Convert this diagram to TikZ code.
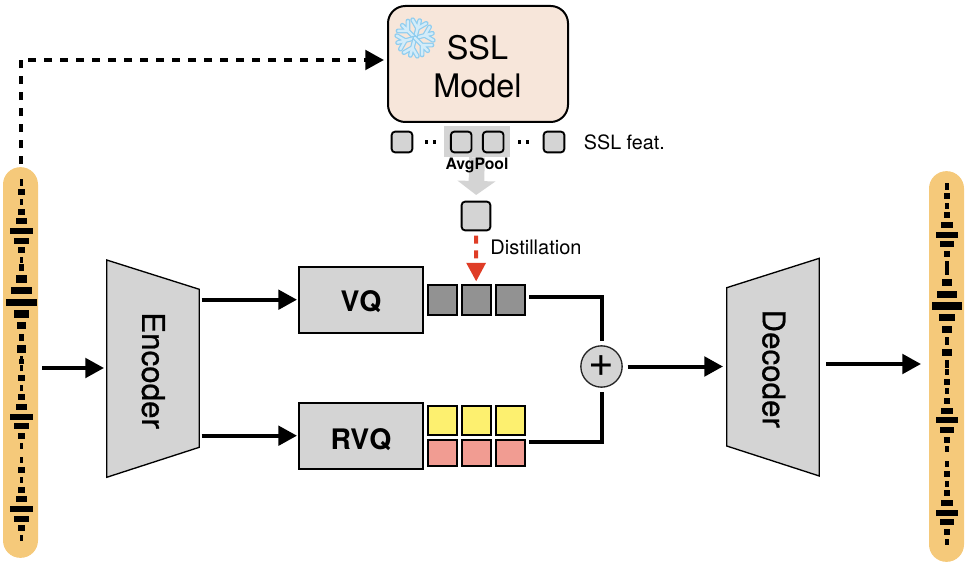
\documentclass[tikz,border=0pt]{standalone}
\usepackage{fontspec}
\setmainfont{TeX Gyre Heros}
\newfontfamily\semifont[FakeBold=0.7]{TeX Gyre Heros}
\usetikzlibrary{arrows.meta, positioning}

\definecolor{boxgray}{HTML}{D4D4D4}
\definecolor{codegray}{HTML}{929292}
\definecolor{codeyellow}{HTML}{FDF06F}
\definecolor{codered}{HTML}{F19C92}
\definecolor{sslfill}{HTML}{F7E6DA}
\definecolor{pillfill}{HTML}{F5C97A}
\definecolor{distred}{HTML}{DF3D26}
\definecolor{flakeblue}{HTML}{8FCDEF}
\definecolor{flakepale}{HTML}{D3ECF9}

\tikzset{
  pill/.style={fill=pillfill, rounded corners=13pt, minimum width=26.25pt, minimum height=293pt, inner sep=0pt, outer sep=0pt},
  wavebar/.style={fill=black, inner sep=0pt, outer sep=0pt},
  quant/.style={draw=black, fill=boxgray, line width=1.6pt, minimum width=93pt, minimum height=49.5pt, font=\fontsize{21.2}{24}\selectfont\bfseries, outer sep=0pt},
  code/.style={draw=black, line width=1.5pt, minimum width=21.75pt, minimum height=21.75pt, inner sep=0pt, outer sep=0pt},
  feat/.style={draw=black, fill=boxgray, line width=1.4pt, rounded corners=2.5pt, minimum width=15.5pt, minimum height=15.5pt, inner sep=0pt, outer sep=0pt},
  conv/.style={draw=black, fill=boxgray, line width=1pt},
  convtext/.style={rotate=-90, font=\fontsize{23.5}{26}\semifont},
  link/.style={line width=3pt, -{Triangle[length=14pt, width=14.5pt]}},
  plainlink/.style={line width=3pt},
  flake/.style={line cap=round, line join=round}
}

% one waveform: name, centre x, shift in y
\newcommand{\waveform}[3]{
  \foreach \y/\w/\h [count=\n] in {
    182.7/10/18, 192.3/20/16, 202/10/16, 211.7/20/16, 221.3/32/16, 231/64/16, 240.7/42/16, 250.3/20/16, 260/10/16,
    267.3/12/20, 279/30/20, 290.7/60/20, 302.3/88/20, 314/44/20, 325.7/28/20, 337.3/14/20, 349/28/20, 358.5/10/12,
    361.7/14/12, 368.3/10/16, 378/20/16, 387.7/10/16, 397.3/20/16, 407/32/16, 416.7/64/16, 426.3/42/16, 436/20/16,
    445.7/10/16, 460.3/10/16, 470/20/16, 480/10/16, 489.7/20/16, 499.3/32/16, 509/64/16, 518.7/42/16, 528.3/20/16, 538.3/10/16
  }
    \node[wavebar, minimum width=\w*0.26pt, minimum height=\h*0.28pt] (#1bar\n) at (#2, \y+#3) {};
}

\begin{document}
\begin{tikzpicture}[x=0.75pt, y=-0.75pt]
  \useasboundingbox (0,0) rectangle (966,566);

  % waveforms
  \node[pill] (wavein) at (20.5,362.5) {};
  \waveform{wavein}{21.5}{0}
  \node[pill] (waveout) at (946.5,366.5) {};
  \waveform{waveout}{947}{3.7}

  % SSL branch
  \node[draw=black, fill=sslfill, line width=1.5pt, rounded corners=13pt, minimum width=135pt, minimum height=87pt, inner sep=0pt, outer sep=0pt] (ssl) at (478,64) {};
  \node[align=center, font=\fontsize{24.3}{28.6}\selectfont, inner sep=0pt] (ssltext) at (477.5,67) {SSL\\Model};
  \foreach \a in {15,75,...,315} {
    \foreach \c/\lw in {flakeblue/3.6pt, flakepale/1.8pt} {
      \draw[flake, draw=\c, line width=\lw, shift={(415,38)}, rotate=\a]
        (0,0) -- (18,0) (10,0) -- (17,-7) (10,0) -- (17,7);
    }
  }
  \node[fill=boxgray, minimum width=49.5pt, minimum height=23.5pt, inner sep=0pt, outer sep=0pt] (poolbg) at (477,141.7) {};
  \node[feat] (feat1) at (402,142) {};
  \node[feat] (feat2) at (461.2,142) {};
  \node[feat] (feat3) at (493.2,142) {};
  \node[feat] (feat4) at (554,142) {};
  \foreach \x in {426.7,434.2,519.2,527.7}
    \fill (\x-1.7,140.3) rectangle (\x+1.7,143.7);
  \node[right=14.5pt of feat4.east, anchor=west, font=\fontsize{14.8}{18}\selectfont, inner sep=0pt] (featlabel) {SSL feat.};
  \node[feat, minimum width=21.5pt, minimum height=21.5pt] (pooled) at (476,216) {};
  \draw[draw=boxgray, line width=11.7pt, -{Triangle[length=10.5pt, width=28pt]}, shorten >=5pt] (poolbg.south) -- (pooled.north);
  \node[font=\fontsize{11.8}{14}\selectfont\bfseries, inner sep=0pt] (poollabel) at (477,165.5) {AvgPool};
  \node[font=\fontsize{15}{18}\selectfont, inner sep=0pt] (distlabel) at (536,247) {Distillation};

  % encoder and quantizers
  \draw[conv] (106.7,260) -- (199.3,289.3) -- (199.3,447.3) -- (106.7,477.3) -- cycle;
  \node[convtext] (encoder) at (153.3,370.6) {Encoder};
  \node[quant] (vq) at (361,300) {\raisebox{-2.35pt}[12pt][0pt]{VQ}};
  \node[quant] (rvq) at (361,436) {\raisebox{-3.85pt}[12pt][0pt]{RVQ}};

  \node[code, fill=codegray] (vq1) at (442.2,300) {};
  \node[code, fill=codegray, right=3.75pt of vq1] (vq2) {};
  \node[code, fill=codegray, right=3.75pt of vq2] (vq3) {};
  \node[code, fill=codeyellow] (ya) at (442.2,420) {};
  \node[code, fill=codeyellow, right=3.75pt of ya] (yb) {};
  \node[code, fill=codeyellow, right=3.75pt of yb] (yc) {};
  \node[code, fill=codered, minimum height=19.5pt] (ra) at (442.2,453) {};
  \node[code, fill=codered, minimum height=19.5pt, right=3.75pt of ra] (rb) {};
  \node[code, fill=codered, minimum height=19.5pt, right=3.75pt of rb] (rc) {};

  \node[circle, draw=black!85, fill=boxgray, line width=1pt, minimum size=31pt, inner sep=0pt, outer sep=0pt, font=\fontsize{33}{33}\selectfont] (plus) at (601.5,366.5) {+};

  \draw[conv] (819.3,258.3) -- (726.7,287.7) -- (726.7,446) -- (819.3,476) -- cycle;
  \node[convtext] (decoder) at (773.8,368.7) {Decoder};

  % free ends
  \coordinate (encin) at (104,368);
  \coordinate (encup) at (201.7,299.7);
  \coordinate (enclow) at (201.7,435.7);
  \coordinate (vqin) at (297,299.7);
  \coordinate (rvqin) at (297,435.7);
  \coordinate (vqout) at (529,297);
  \coordinate (rvqout) at (529,442);
  \coordinate (decin) at (723,366.5);
  \coordinate (decout) at (826,364);
  \coordinate (waveend) at (921,364);
  \coordinate (sslin) at (384,60);
  \coordinate (wavestart) at (42,368);

  % connectors
  \draw[link] (wavestart) -- (encin);
  \draw[link] (encup) -- (vqin);
  \draw[link] (enclow) -- (rvqin);
  \draw[plainlink, shorten >=3.5pt] (vqout) -| (plus.north);
  \draw[plainlink, shorten >=3.5pt] (rvqout) -| (plus.south);
  \draw[link, shorten <=4pt] (plus.east) -- (decin);
  \draw[link] (decout) -- (waveend);
  \draw[link, dash pattern=on 6pt off 6pt, shorten <=2.25pt] (wavein.north) |- (sslin);
  \draw[draw=distred, line width=3pt, dash pattern=on 6pt off 5pt, -{Triangle[length=14pt, width=14pt, sep=0pt]}, shorten <=4pt, shorten >=3pt] (pooled.south) -- (vq2.north);
\end{tikzpicture}
\end{document}
